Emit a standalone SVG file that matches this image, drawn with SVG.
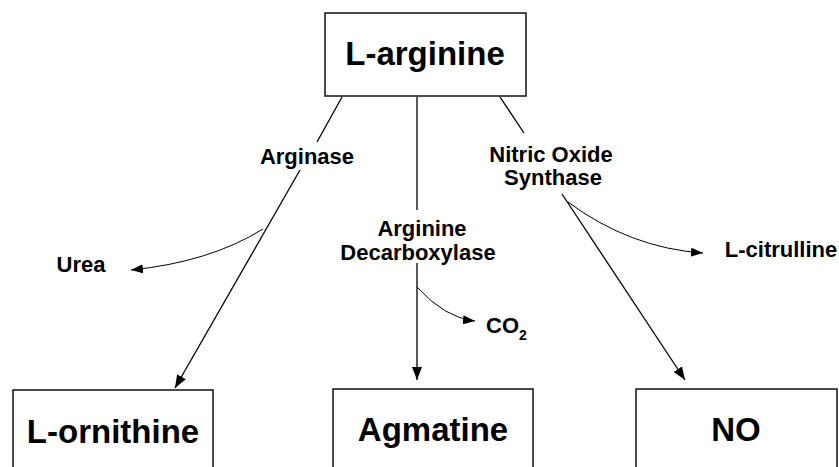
<svg xmlns="http://www.w3.org/2000/svg" width="839" height="467" viewBox="0 0 839 467">
<style>
.box{fill:#fff;stroke:#111;stroke-width:1.5}
.big{font-family:"Liberation Sans",Arial,sans-serif;font-weight:bold;font-size:33px;fill:#000;text-anchor:middle}
.lbl{font-family:"Liberation Sans",Arial,sans-serif;font-weight:bold;font-size:22px;fill:#000;text-anchor:middle}
.ln{fill:none;stroke:#000;stroke-width:1.3}
.cv{fill:none;stroke:#000;stroke-width:1}
</style>
<defs>
<marker id="ah" markerUnits="userSpaceOnUse" markerWidth="14" markerHeight="11" refX="13" refY="5" orient="auto">
<path d="M0,0 L13,5 L0,10 z" fill="#000"/>
</marker>
<marker id="ahs" markerUnits="userSpaceOnUse" markerWidth="13" markerHeight="10" refX="12" refY="4.5" orient="auto">
<path d="M0,0 L12,4.5 L0,9 z" fill="#000"/>
</marker>
</defs>
<rect width="839" height="467" fill="#fff"/>
<g id="larginine">
<rect class="box" x="325" y="13" width="201" height="83"/>
<text class="big" x="425" y="65">L-arginine</text>
</g>
<g id="lornithine">
<rect class="box" x="13" y="390" width="200" height="100"/>
<text class="big" x="113" y="443">L-ornithine</text>
</g>
<g id="agmatine">
<rect class="box" x="333" y="389" width="200" height="100"/>
<text class="big" x="433" y="441">Agmatine</text>
</g>
<g id="no">
<rect class="box" x="636" y="389" width="201" height="100"/>
<text class="big" x="736" y="441">NO</text>
</g>
<g id="connectors">
<line class="ln" x1="342" y1="97" x2="317" y2="142"/>
<line class="ln" x1="300" y1="170" x2="175" y2="388" marker-end="url(#ah)"/>
<path class="cv" d="M263,229 Q210,262 131,270" marker-end="url(#ahs)"/>
<line class="ln" x1="417" y1="97" x2="417" y2="210"/>
<line class="ln" x1="417" y1="263" x2="417" y2="380" marker-end="url(#ah)"/>
<path class="cv" d="M417,287 Q445,318 475,321" marker-end="url(#ahs)"/>
<line class="ln" x1="500" y1="97" x2="524" y2="133"/>
<line class="ln" x1="562" y1="194" x2="685" y2="380" marker-end="url(#ah)"/>
<path class="cv" d="M568,202 Q630,248 703,253" marker-end="url(#ahs)"/>
</g>
<g id="labels">
<text class="lbl" x="307" y="164">Arginase</text>
<text class="lbl" x="422" y="236">Arginine</text>
<text class="lbl" x="418" y="260">Decarboxylase</text>
<text class="lbl" x="551" y="162">Nitric Oxide</text>
<text class="lbl" x="553" y="185">Synthase</text>
<text class="lbl" x="81" y="272">Urea</text>
<text class="lbl" x="781" y="257">L-citrulline</text>
<text class="lbl" x="486" y="333" style="text-anchor:start">CO<tspan font-size="14" dy="7">2</tspan></text>
</g>
</svg>
